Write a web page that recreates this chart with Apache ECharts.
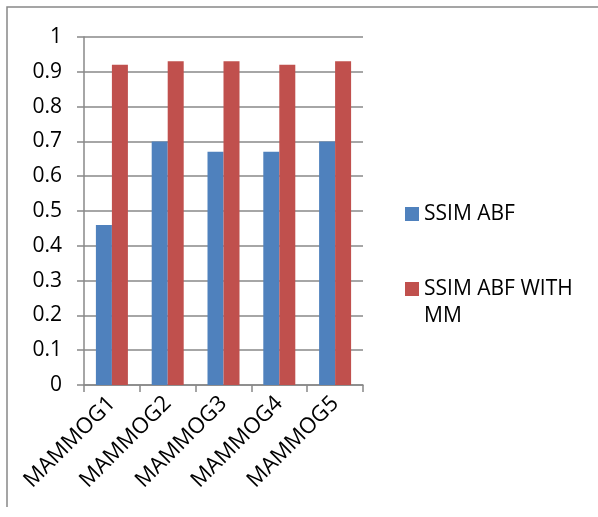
<!DOCTYPE html>
<html>
<head>
<meta charset="utf-8">
<script src="https://cdn.jsdelivr.net/npm/echarts@6/dist/echarts.min.js"></script>
<style>
html,body{margin:0;padding:0;background:#fff;}
#c{width:598px;height:517px;}
</style>
</head>
<body>
<div id="c"></div>
<script>
var categories = ['MAMMOG1', 'MAMMOG2', 'MAMMOG3', 'MAMMOG4', 'MAMMOG5'];
var seriesNames = ['SSIM ABF', 'SSIM ABF WITH MM'];
var ssimAbf = [0.46, 0.70, 0.67, 0.67, 0.70];
var ssimAbfMM = [0.92, 0.93, 0.93, 0.92, 0.93];

var FONT = 'Open Sans';
var FS = 21;
var chart = echarts.init(document.getElementById('c'));
chart.setOption({
  animation: false,
  backgroundColor: '#ffffff',
  textStyle: { fontFamily: FONT },
  graphic: [
    { type: 'polyline', shape: { points: [[7, 507], [7, 7], [598, 7]] },
      style: { stroke: '#888888', lineWidth: 1.5, fill: null }, silent: true }
  ],
  grid: { left: 84, top: 37, width: 279, height: 348, containLabel: false },
  legend: [
    {
      data: [seriesNames[0]], orient: 'vertical', left: 405, top: 200.5, padding: 0,
      itemWidth: 14, itemHeight: 14, icon: 'rect',
      textStyle: { fontFamily: FONT, fontSize: FS, color: '#000', lineHeight: 27 }
    },
    {
      data: [seriesNames[1]], orient: 'vertical', left: 405, top: 248.5, padding: 0,
      itemWidth: 14, itemHeight: 14, icon: 'rect',
      formatter: function () { return ' \nSSIM ABF WITH\nMM'; },
      textStyle: { fontFamily: FONT, fontSize: FS, color: '#000', lineHeight: 27 }
    }
  ],
  xAxis: {
    type: 'category',
    data: categories,
    axisLine: { lineStyle: { color: '#888888', width: 1.5 } },
    axisTick: { show: true, length: 7, lineStyle: { color: '#888888', width: 1.5 } },
    axisLabel: { rotate: 45, margin: 15, fontSize: 22, color: '#000', fontFamily: FONT, interval: 0 }
  },
  yAxis: {
    type: 'value', min: 0, max: 1, interval: 0.1,
    axisLine: { show: true, lineStyle: { color: '#888888', width: 1.5 } },
    axisTick: { show: true, length: 7, lineStyle: { color: '#888888', width: 1.5 } },
    splitLine: { show: true, lineStyle: { color: '#888888', width: 1.5 } },
    axisLabel: { margin: 22, fontSize: FS, color: '#000', fontFamily: FONT,
      formatter: function (v) { return String(Math.round(v * 10) / 10); } }
  },
  series: [
    { name: seriesNames[0], type: 'bar', data: ssimAbf, barWidth: 16, barGap: '0%',
      itemStyle: { color: '#4F81BD' } },
    { name: seriesNames[1], type: 'bar', data: ssimAbfMM, barWidth: 16, barGap: '0%',
      itemStyle: { color: '#C0504D' } }
  ]
});
</script>
</body>
</html>
